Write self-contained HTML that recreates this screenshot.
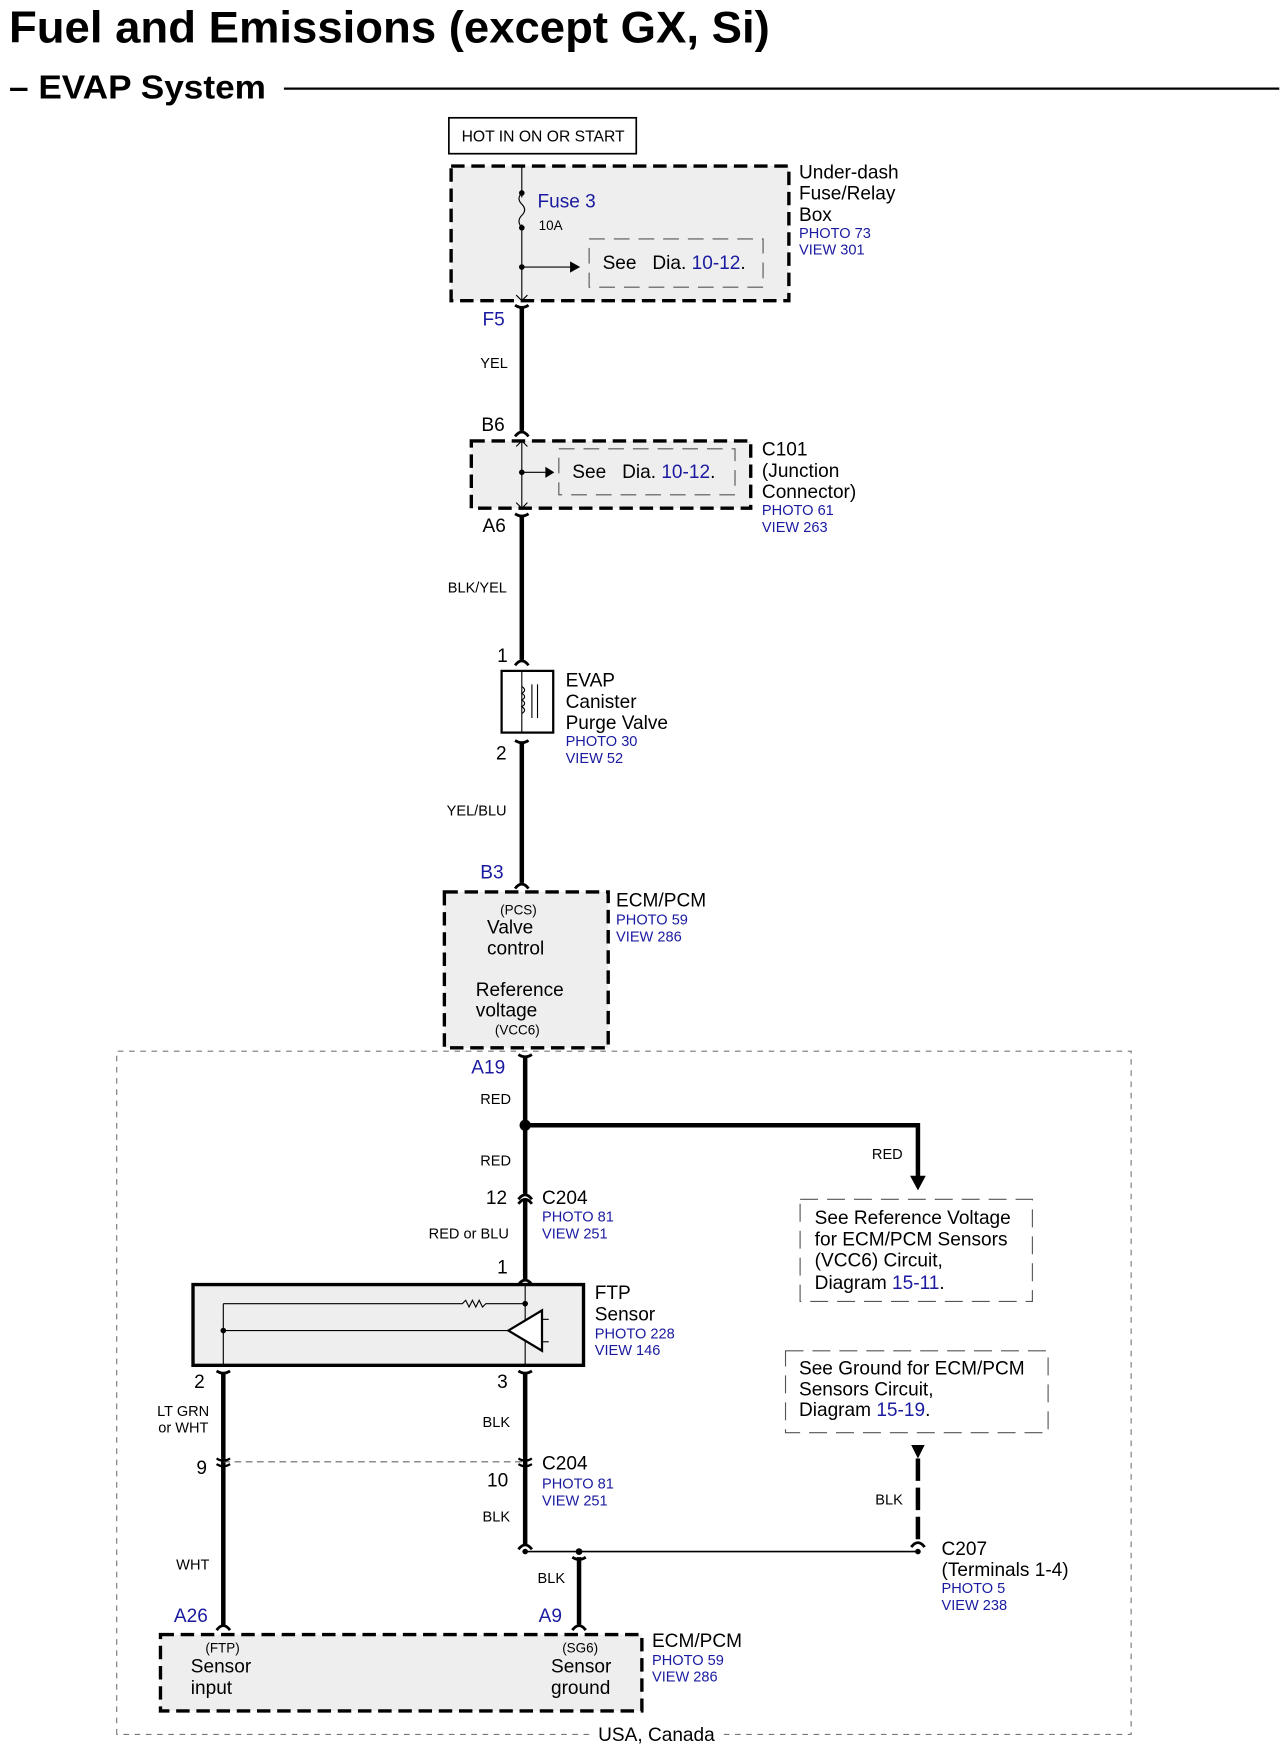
<!DOCTYPE html>
<html><head><meta charset="utf-8"><style>
html,body{margin:0;padding:0;background:#fff}
svg{display:block}
text{font-family:"Liberation Sans",Arial,sans-serif;fill:#000}
.b{fill:#1a1aa0}
.s13{font-size:13px}.s17{font-size:17px}.s12{font-size:12px}
</style></head><body>
<svg width="1286" height="1758" viewBox="0 0 1146 1567" preserveAspectRatio="none" xmlns="http://www.w3.org/2000/svg">
<text x="8" y="38" font-size="40" font-weight="bold" textLength="678" lengthAdjust="spacingAndGlyphs">Fuel and Emissions (except GX, Si)</text>
<text x="8" y="88" font-size="30" font-weight="bold" textLength="229" lengthAdjust="spacingAndGlyphs">– EVAP System</text>
<line x1="253" y1="79" x2="1140" y2="79" stroke="#000" stroke-width="2"/>

<rect x="400" y="105" width="167" height="32" fill="#fff" stroke="#000" stroke-width="1.5"/>
<text x="484" y="126" font-size="14" text-anchor="middle">HOT IN ON OR START</text>

<rect x="402" y="148" width="301" height="120" fill="#eee" stroke="#000" stroke-width="3" stroke-dasharray="12 6"/>
<line x1="465" y1="148" x2="465" y2="268" stroke="#000"/>
<rect x="463" y="176" width="4" height="24" fill="#eee"/>
<path d="M465,172 q-5,5 0,10 q5,5 0,10 q-5,5 0,11" fill="none" stroke="#000"/>
<circle cx="465" cy="172" r="2.5"/><circle cx="465" cy="203" r="2.5"/><circle cx="465" cy="238" r="2.5"/>
<line x1="465" y1="238" x2="508" y2="238" stroke="#000"/><path d="M508,233 L517,238 L508,243Z"/>
<rect x="525" y="213" width="155" height="43" fill="none" stroke="#555" stroke-dasharray="14 8"/>
<text x="479" y="185" class="s17 b">Fuse 3</text>
<text x="480" y="205" class="s12">10A</text>
<text x="537" y="240" class="s17">See&#160;&#160; Dia. <tspan class="b">10-12</tspan>.</text>
<path d="M460,263 L465,268 L470,263" fill="none" stroke="#000"/>
<text x="712" y="159" class="s17">Under-dash</text><text x="712" y="178" class="s17">Fuse/Relay</text><text x="712" y="197" class="s17">Box</text>
<text x="712" y="212" class="s13 b">PHOTO 73</text><text x="712" y="227" class="s13 b">VIEW 301</text>

<path d="M459,272 Q465,276 471,272" fill="none" stroke="#000" stroke-width="2.5"/>
<line x1="465" y1="273" x2="465" y2="384" stroke="#000" stroke-width="4"/>
<path d="M459,389 Q465,381 471,389" fill="none" stroke="#000" stroke-width="2.5"/>
<text x="430" y="290" class="s17 b">F5</text>
<text x="428" y="328" class="s13">YEL</text>
<text x="429" y="384" class="s17">B6</text>

<rect x="420" y="393" width="249" height="60" fill="#eee" stroke="#000" stroke-width="3" stroke-dasharray="12 6"/>
<line x1="465" y1="393" x2="465" y2="453" stroke="#000"/>
<path d="M460,398 L465,393 L470,398 M460,448 L465,453 L470,448" fill="none" stroke="#000"/>
<circle cx="465" cy="421" r="2.5"/><line x1="465" y1="421" x2="486" y2="421" stroke="#000"/><path d="M486,416 L494,421 L486,426Z"/>
<rect x="498" y="400" width="157" height="41" fill="none" stroke="#555" stroke-dasharray="14 8"/>
<text x="510" y="426" class="s17">See&#160;&#160; Dia. <tspan class="b">10-12</tspan>.</text>
<text x="679" y="406" class="s17">C101</text><text x="679" y="425" class="s17">(Junction</text><text x="679" y="444" class="s17">Connector)</text>
<text x="679" y="459" class="s13 b">PHOTO 61</text><text x="679" y="474" class="s13 b">VIEW 263</text>

<text x="430" y="474" class="s17">A6</text>
<path d="M459,458 Q465,462 471,458" fill="none" stroke="#000" stroke-width="2.5"/>
<line x1="465" y1="460" x2="465" y2="588" stroke="#000" stroke-width="4"/>
<path d="M459,593 Q465,585 471,593" fill="none" stroke="#000" stroke-width="2.5"/>
<text x="399" y="528" class="s13">BLK/YEL</text>
<text x="443" y="590" class="s17">1</text>
<rect x="447" y="598" width="46" height="55" fill="#fff" stroke="#000" stroke-width="2"/>
<line x1="465" y1="598" x2="465" y2="653" stroke="#000"/>
<path d="M465,612 q5,3 0,6 q5,3 0,6 q5,3 0,6 q5,3 0,6" fill="none" stroke="#000"/>
<line x1="474" y1="610" x2="474" y2="640" stroke="#000"/><line x1="479" y1="610" x2="479" y2="640" stroke="#000"/>
<text x="504" y="612" class="s17">EVAP</text><text x="504" y="631" class="s17">Canister</text><text x="504" y="650" class="s17">Purge Valve</text>
<text x="504" y="665" class="s13 b">PHOTO 30</text><text x="504" y="680" class="s13 b">VIEW 52</text>
<text x="442" y="677" class="s17">2</text>
<path d="M459,660 Q465,664 471,660" fill="none" stroke="#000" stroke-width="2.5"/>
<line x1="465" y1="662" x2="465" y2="787" stroke="#000" stroke-width="4"/>
<path d="M459,792 Q465,784 471,792" fill="none" stroke="#000" stroke-width="2.5"/>
<text x="398" y="727" class="s13">YEL/BLU</text>
<text x="428" y="783" class="s17 b">B3</text>

<rect x="396" y="795" width="146" height="139" fill="#eee" stroke="#000" stroke-width="3" stroke-dasharray="12 6"/>
<text x="462" y="815" class="s12" text-anchor="middle">(PCS)</text>
<text x="434" y="832" class="s17">Valve</text><text x="434" y="851" class="s17">control</text>
<text x="424" y="888" class="s17">Reference</text><text x="424" y="906" class="s17">voltage</text>
<text x="441" y="922" class="s12">(VCC6)</text>
<text x="549" y="808" class="s17">ECM/PCM</text><text x="549" y="824" class="s13 b">PHOTO 59</text><text x="549" y="839" class="s13 b">VIEW 286</text>

<path d="M104,1546 L104,937 L1008,937 L1008,1546 L640,1546 M525,1546 L104,1546" fill="none" stroke="#777" stroke-dasharray="5 5"/>
<text x="585" y="1552" class="s17" text-anchor="middle">USA, Canada</text>

<text x="420" y="957" class="s17 b">A19</text>
<path d="M462,940 Q468,944 474,940" fill="none" stroke="#000" stroke-width="2.5"/>
<line x1="468" y1="942" x2="468" y2="1064" stroke="#000" stroke-width="4"/>
<text x="428" y="984" class="s13">RED</text>
<circle cx="468" cy="1003" r="5"/>
<path d="M468,1003 L818,1003 L818,1050" fill="none" stroke="#000" stroke-width="4"/>
<path d="M811,1048 L818,1061 L825,1048Z"/>
<text x="777" y="1033" class="s13">RED</text>
<text x="428" y="1039" class="s13">RED</text>
<path d="M462,1069 Q468,1061 474,1069 M462,1073 Q468,1065 474,1073" fill="none" stroke="#000" stroke-width="2.5"/>
<line x1="468" y1="1070" x2="468" y2="1140" stroke="#000" stroke-width="4"/>
<path d="M462,1145 Q468,1137 474,1145" fill="none" stroke="#000" stroke-width="2.5"/>
<text x="433" y="1073" class="s17">12</text>
<text x="483" y="1073" class="s17">C204</text><text x="483" y="1089" class="s13 b">PHOTO 81</text><text x="483" y="1104" class="s13 b">VIEW 251</text>
<text x="382" y="1104" class="s13">RED or BLU</text>
<text x="443" y="1135" class="s17">1</text>

<rect x="713" y="1069" width="207" height="91" fill="none" stroke="#555" stroke-dasharray="16 8"/>
<text x="726" y="1091" class="s17">See Reference Voltage</text><text x="726" y="1110" class="s17">for ECM/PCM Sensors</text>
<text x="726" y="1129" class="s17">(VCC6) Circuit,</text><text x="726" y="1149" class="s17">Diagram <tspan class="b">15-11</tspan>.</text>

<rect x="172" y="1145" width="348" height="72" fill="#eee" stroke="#000" stroke-width="3"/>
<line x1="468" y1="1145" x2="468" y2="1217" stroke="#000"/>
<line x1="199" y1="1162" x2="199" y2="1217" stroke="#000"/>
<path d="M199,1162 L412,1162 l3,-3 l3,6 l3,-6 l3,6 l3,-6 l3,6 l3,-3 L468,1162" fill="none" stroke="#000"/>
<line x1="199" y1="1186" x2="453" y2="1186" stroke="#000"/>
<path d="M453,1186 L483,1168 L483,1204Z" fill="#fff" stroke="#000" stroke-width="2"/>
<line x1="483" y1="1176" x2="489" y2="1176" stroke="#000"/><line x1="483" y1="1196" x2="489" y2="1196" stroke="#000"/>
<circle cx="468" cy="1162" r="2.5"/><circle cx="199" cy="1186" r="2.5"/>
<text x="530" y="1158" class="s17">FTP</text><text x="530" y="1177" class="s17">Sensor</text>
<text x="530" y="1193" class="s13 b">PHOTO 228</text><text x="530" y="1208" class="s13 b">VIEW 146</text>

<text x="173" y="1237" class="s17">2</text><text x="443" y="1237" class="s17">3</text>
<path d="M193,1222 Q199,1226 205,1222 M462,1222 Q468,1226 474,1222" fill="none" stroke="#000" stroke-width="2.5"/>
<line x1="199" y1="1224" x2="199" y2="1450" stroke="#000" stroke-width="4"/>
<line x1="468" y1="1224" x2="468" y2="1378" stroke="#000" stroke-width="4"/>
<text x="140" y="1262" class="s13">LT GRN</text><text x="141" y="1277" class="s13">or WHT</text>
<text x="430" y="1272" class="s13">BLK</text>
<line x1="199" y1="1303" x2="468" y2="1303" stroke="#666" stroke-dasharray="6 4"/>
<path d="M193,1300 Q199,1304 205,1300 M193,1305 Q199,1309 205,1305 M462,1300 Q468,1304 474,1300 M462,1305 Q468,1309 474,1305" fill="none" stroke="#000" stroke-width="2"/>
<text x="175" y="1314" class="s17">9</text><text x="434" y="1325" class="s17">10</text>
<text x="483" y="1310" class="s17">C204</text><text x="483" y="1327" class="s13 b">PHOTO 81</text><text x="483" y="1342" class="s13 b">VIEW 251</text>
<text x="430" y="1356" class="s13">BLK</text>
<path d="M462,1381 Q468,1373 474,1381" fill="none" stroke="#000" stroke-width="2.5"/>

<rect x="700" y="1204" width="234" height="73" fill="none" stroke="#555" stroke-dasharray="16 8"/>
<text x="712" y="1225" class="s17">See Ground for ECM/PCM</text><text x="712" y="1244" class="s17">Sensors Circuit,</text>
<text x="712" y="1262" class="s17">Diagram <tspan class="b">15-19</tspan>.</text>
<path d="M812,1288 L824,1288 L818,1300Z"/>
<line x1="818" y1="1300" x2="818" y2="1374" stroke="#000" stroke-width="4" stroke-dasharray="20 6"/>
<path d="M812,1379 Q818,1371 824,1379" fill="none" stroke="#000" stroke-width="2.5"/>
<text x="780" y="1341" class="s13">BLK</text>

<line x1="468" y1="1383" x2="818" y2="1383" stroke="#000" stroke-width="1.5"/>
<circle cx="468" cy="1383" r="2.5"/><circle cx="516" cy="1383" r="3"/><circle cx="818" cy="1383" r="2.5"/>
<path d="M510,1388 Q516,1392 522,1388" fill="none" stroke="#000" stroke-width="2.5"/>
<line x1="516" y1="1388" x2="516" y2="1448" stroke="#000" stroke-width="4"/>
<text x="479" y="1411" class="s13">BLK</text>
<text x="839" y="1386" class="s17">C207</text><text x="839" y="1405" class="s17">(Terminals 1-4)</text>
<text x="839" y="1420" class="s13 b">PHOTO 5</text><text x="839" y="1435" class="s13 b">VIEW 238</text>
<text x="157" y="1399" class="s13">WHT</text>
<path d="M193,1453 Q199,1445 205,1453 M510,1453 Q516,1445 522,1453" fill="none" stroke="#000" stroke-width="2.5"/>
<text x="155" y="1446" class="s17 b">A26</text><text x="480" y="1446" class="s17 b">A9</text>

<rect x="143" y="1457" width="429" height="68" fill="#eee" stroke="#000" stroke-width="3" stroke-dasharray="12 6"/>
<text x="183" y="1473" class="s12">(FTP)</text><text x="170" y="1491" class="s17">Sensor</text><text x="170" y="1510" class="s17">input</text>
<text x="501" y="1473" class="s12">(SG6)</text><text x="491" y="1491" class="s17">Sensor</text><text x="491" y="1510" class="s17">ground</text>
<text x="581" y="1468" class="s17">ECM/PCM</text><text x="581" y="1484" class="s13 b">PHOTO 59</text><text x="581" y="1499" class="s13 b">VIEW 286</text>
</svg>
</body></html>
